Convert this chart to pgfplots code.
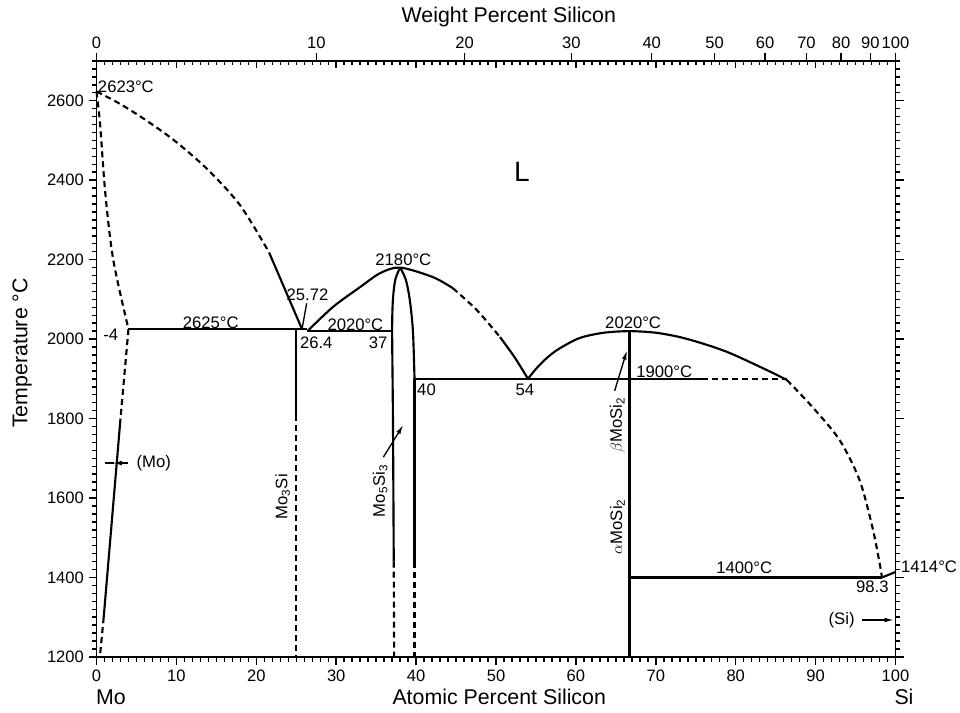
\documentclass[border=0pt]{standalone}
\usepackage{fontspec}
\setmainfont{Liberation Sans}
\usepackage{pgfplots}
\pgfplotsset{compat=1.18}
\usetikzlibrary{arrows.meta}
\newcommand{\tfs}{\fontsize{12.4}{14}\selectfont}
\newcommand{\afs}{\fontsize{16}{18}\selectfont}
\tikzset{
  sol/.style={black, line width=1.6pt},
  dsh/.style={black, line width=1.6pt, dash pattern=on 4.5pt off 3pt},
  lbl/.style={font=\fontsize{12.5}{14}\selectfont, inner sep=0pt},
  arr/.style={black, line width=1pt, -{Latex[length=7pt,width=3.5pt]}},
}
\pgfplotsset{
  base/.style={scale only axis, width=599.25pt, height=447pt,
    xmin=0, xmax=100, ymin=1200, ymax=2700,
    axis line style={line width=1.1pt},
    tick style={line width=1.1pt, black},
    ticklabel style={font=\tfs},
    /pgf/number format/assume math mode=true,
    /pgf/number format/1000 sep={}},
}
\begin{document}
\begin{tikzpicture}
\begin{axis}[base, clip=false,
  xtick={0,10,...,100}, ytick={1200,1400,...,2600},
  minor xtick={0,1,...,100}, minor ytick={1200,1220,...,2700},
  xtick pos=left, ytick pos=both, yticklabel pos=left,
  tick align=outside,
  major tick length=6pt, minor tick length=3.6pt,
]
\coordinate (bbll) at (rel axis cs:-0.1208,-0.094);
\coordinate (bbur) at (rel axis cs:1.0807,1.1023);
% Mo-side liquidus
\addplot[dsh, smooth] coordinates {(0,2623) (2.5,2597) (5.5,2560) (9.6,2502) (13.9,2427) (18.0,2336) (21.6,2218)};
\addplot[sol] coordinates {(21.6,2218) (25.72,2025)};
% Mo solidus
\addplot[dsh, smooth] coordinates {(0,2623) (0.45,2540) (1.1,2367) (2.1,2199) (4,2025)};
% Mo solvus
\addplot[dsh] coordinates {(4,2025) (3.0,1800)};
\addplot[sol] coordinates {(3.0,1800) (0.9,1300)};
\addplot[dsh] coordinates {(0.9,1300) (0.42,1200)};
% eutectic lines
\addplot[sol] coordinates {(4,2025) (26.4,2025)};
\addplot[sol] coordinates {(26.4,2020) (37,2020)};
\addplot[black, line width=1pt] coordinates {(25.72,2025) (26.3,2090)};
% Mo3Si
\addplot[sol] coordinates {(25,2025) (25,1810)};
\addplot[dsh] coordinates {(25,1810) (25,1200)};
% Mo5Si3 liquidus dome
\addplot[sol, smooth] coordinates {(26.4,2020) (29.6,2081) (33,2131) (35.5,2166) (38,2180) (42.1,2156) (44.6,2128)};
\addplot[dsh, smooth] coordinates {(44.6,2128) (47.6,2073) (50.5,2005)};
\addplot[sol, smooth] coordinates {(50.5,2005) (52.3,1955) (54,1900)};
% Mo5Si3 lens
\addplot[sol, smooth] coordinates {(38,2180) (37.4,2150) (37.1,2100) (37,2020) (37.1,1800) (37.2,1440)};
\addplot[dsh] coordinates {(37.2,1440) (37.25,1200)};
\addplot[sol, smooth] coordinates {(38,2180) (38.7,2150) (39.2,2100) (39.6,2020) (39.8,1900)};
\addplot[sol] coordinates {(39.8,1900) (39.8,1440)};
\addplot[dsh] coordinates {(39.8,1440) (39.8,1200)};
% 1900 eutectic
\addplot[sol] coordinates {(39.8,1900) (75.8,1900)};
\addplot[dsh] coordinates {(75.8,1900) (86.4,1900)};
% MoSi2 liquidus
\addplot[sol, smooth] coordinates {(54,1900) (55,1925) (56.5,1955) (58,1977) (60.5,2003) (63.5,2016) (66.7,2020) (70,2016) (73,2005) (76,1988) (79.25,1965) (83.9,1922) (86.4,1897)};
\addplot[dsh, smooth] coordinates {(86.4,1897) (89.6,1829) (93,1746) (95.5,1645) (97.1,1527) (98,1437) (98.3,1400)};
% MoSi2 and Si side
\addplot[sol] coordinates {(66.7,2020) (66.7,1200)};
\addplot[sol] coordinates {(66.7,1400) (98.3,1400)};
\addplot[sol] coordinates {(98.3,1400) (100,1414)};
% labels
\node[lbl, anchor=west] at (axis cs:0.15,2634) {2623°C};
\node[lbl, anchor=east] at (axis cs:2.75,2010) {-4};
\node[lbl] at (axis cs:14.3,2040) {2625°C};
\node[lbl] at (axis cs:26.4,2111) {25.72};
\node[lbl] at (axis cs:27.5,1990) {26.4};
\node[lbl] at (axis cs:32.4,2035) {2020°C};
\node[lbl] at (axis cs:35.25,1990) {37};
\node[lbl] at (axis cs:38.4,2199) {2180°C};
\node[lbl] at (axis cs:41.3,1872) {40};
\node[lbl] at (axis cs:53.6,1872) {54};
\node[font=\fontsize{21}{24}\selectfont, inner sep=0pt] at (axis cs:53.25,2420) {L};
\node[lbl] at (axis cs:71.06,1918) {1900°C};
\node[lbl] at (axis cs:67.16,2040) {2020°C};
\node[lbl] at (axis cs:81.06,1424) {1400°C};
\node[lbl] at (axis cs:97.1,1376) {98.3};
\node[lbl] at (axis cs:104.2,1426) {1414°C};
\node[lbl] at (axis cs:93.25,1293) {(Si)};
\node[lbl] at (axis cs:7.17,1688) {(Mo)};
\node[lbl, rotate=90] at (axis cs:23.3,1603) {Mo\textsubscript{3}Si};
\node[lbl, rotate=90] at (axis cs:35.5,1618) {Mo\textsubscript{5}Si\textsubscript{3}};
\node[lbl, rotate=90] at (axis cs:65.2,1784) {$\beta$MoSi\textsubscript{2}};
\node[lbl, rotate=90] at (axis cs:65.2,1528) {$\alpha$MoSi\textsubscript{2}};
% arrows
\draw[arr] (axis cs:4.0,1688) -- (axis cs:2.0,1688);
\draw[black, line width=1pt] (axis cs:2.2,1688) -- (axis cs:1.1,1688);
\draw[arr] (axis cs:35.9,1703) -- (axis cs:38.4,1784);
\draw[arr] (axis cs:64.85,1870) -- (axis cs:66.4,1972);
\draw[arr] (axis cs:95.75,1293) -- (axis cs:99.8,1293);
% axis titles
\node[font=\afs, rotate=90] at (rel axis cs:-0.0932,0.510) {Temperature °C};
\node[font=\afs] at (rel axis cs:0.516,1.074) {Weight Percent Silicon};
\node[font=\afs] at (rel axis cs:0.504,-0.067) {Atomic Percent Silicon};
\node[font=\afs] at (rel axis cs:0.018,-0.067) {Mo};
\node[font=\afs] at (rel axis cs:1.0106,-0.067) {Si};
\end{axis}
% top: atomic percent ticks mirrored inward
\begin{axis}[base, axis x line*=top, axis y line=none,
  xtick={0,10,...,100}, xticklabels={},
  minor xtick={0,1,...,100},
  tick align=inside, major tick length=5.5pt, minor tick length=3.2pt]
\addplot[draw=none] coordinates {(0,1200)};
\end{axis}
% top: weight percent scale
\begin{axis}[base, axis x line*=top, axis y line=none,
  xtick={0,27.515,46.065,59.417,69.489,77.356,83.672,88.854,93.181,96.850,100},
  xticklabels={0,10,20,30,40,50,60,70,80,90,100}, minor tick num=0,
  tick align=outside, major tick length=6pt]
\addplot[draw=none] coordinates {(0,1200)};
\end{axis}
\pgfresetboundingbox
\useasboundingbox (bbll) rectangle (bbur);
\end{tikzpicture}
\end{document}
